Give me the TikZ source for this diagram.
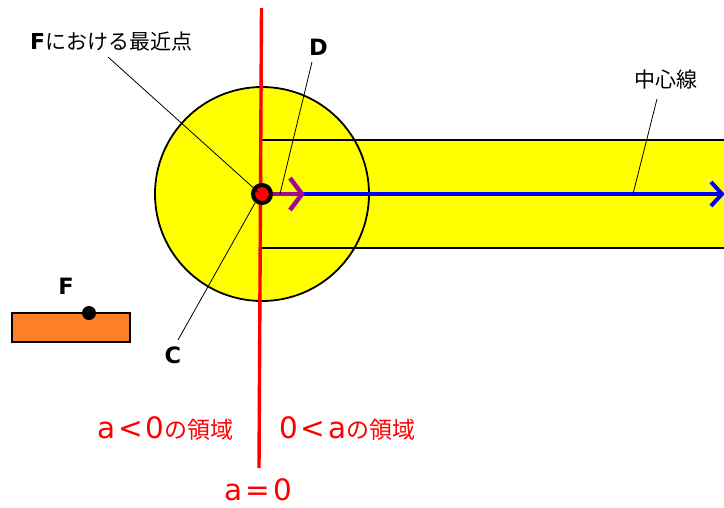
\documentclass[tikz,border=0pt]{standalone}
\usepackage{fontspec}
\setmainfont{Noto Sans CJK JP}
\newfontfamily\dvs{DejaVu Sans}
\definecolor{bandyellow}{RGB}{255,255,0}
\definecolor{forange}{RGB}{255,127,39}
\definecolor{dmag}{RGB}{165,10,140}
\definecolor{cblue}{RGB}{0,0,255}
\definecolor{aread}{RGB}{255,0,0}
\begin{document}
\begin{tikzpicture}[x=1pt,y=-1pt,
  leader/.style={draw=black,line width=0.8pt},
  blab/.style={inner sep=0pt,font=\dvs\bfseries\fontsize{22.5}{24}\selectfont},
  jlab/.style={inner sep=0pt,font=\fontsize{21}{23}\selectfont},
  rlab/.style={inner sep=0pt,text=aread},
  chev/.style={line width=4pt,line cap=butt}
]
\useasboundingbox (0,0) rectangle (724,507);
% disc and band
\coordinate (O) at (262,194);
\fill[bandyellow] (O) circle (107);
\fill[bandyellow] (262,140) rectangle (726,248);
\draw[line width=1.6pt] (262,140) -- (726,140);
\draw[line width=1.6pt] (262,248) -- (726,248);
\draw[line width=1.8pt] (O) circle (107);
% a=0 line
\coordinate (Ltop) at (261.5,8);
\coordinate (Lbot) at (259,468);
\draw[aread,line width=3.4pt] (Ltop) -- (Lbot);
% centre line arrow
\coordinate (Dend) at (303,194);
\coordinate (Cend) at (722,194);
\draw[cblue,line width=4pt] (Dend) -- (Cend);
\draw[cblue,chev,line join=miter] (711,182) -- (Cend) -- (711,206);
% direction arrow
\draw[dmag,line width=4pt] (O) -- (Dend);
\draw[dmag,line width=4.5pt,line join=miter] (290,178) -- (302,194) -- (290,210);
% point
\node[circle,fill=aread,draw=black,line width=4pt,minimum size=18pt,inner sep=0pt] (P) at (O) {};
% F box
\node[rectangle,fill=forange,draw=black,line width=1.4pt,minimum width=118pt,minimum height=29pt,inner sep=0pt] (Fbox) at (71,327.5) {};
\node[circle,fill=black,minimum size=14pt,inner sep=0pt] (Fpt) at (89,313) {};
% labels
\node[anchor=base west,inner sep=0pt] (lblFn) at (30,49) {{\dvs\bfseries\fontsize{22}{24}\selectfont F}{\fontsize{21}{23}\selectfont における最近点}};
\node[blab,anchor=base west] (lblD) at (309,55) {D};
\node[blab,anchor=base] (lblF) at (66,294) {F};
\node[blab,anchor=base] (lblC) at (173,363) {C};
\node[jlab,anchor=center] (lblCL) at (666,80) {中心線};
\node[rlab,anchor=base west] (rneg) at (97,438) {{\dvs\fontsize{29.5}{31}\selectfont a\kern3pt<\kern3pt0}{\fontsize{23}{25}\selectfont の領域}};
\node[rlab,anchor=base west] (rpos) at (279,438) {{\dvs\fontsize{29.5}{31}\selectfont 0\kern3pt<\kern3pt a}{\fontsize{23}{25}\selectfont の領域}};
\node[rlab,anchor=base] (rzero) at (258,500) {{\dvs\fontsize{29.5}{31}\selectfont a\kern3pt=\kern3pt0}};
% leaders
\coordinate (lFa) at (108,57);
\coordinate (lFb) at (258,192);
\coordinate (lDa) at (312,62);
\coordinate (lDb) at (280,194);
\coordinate (lCa) at (178,340);
\coordinate (lCb) at (255,203);
\coordinate (lLa) at (657,99);
\coordinate (lLb) at (633,194);
\draw[leader] (lFa) -- (lFb);
\draw[leader] (lDa) -- (lDb);
\draw[leader] (lCa) -- (lCb);
\draw[leader] (lLa) -- (lLb);
\end{tikzpicture}
\end{document}
